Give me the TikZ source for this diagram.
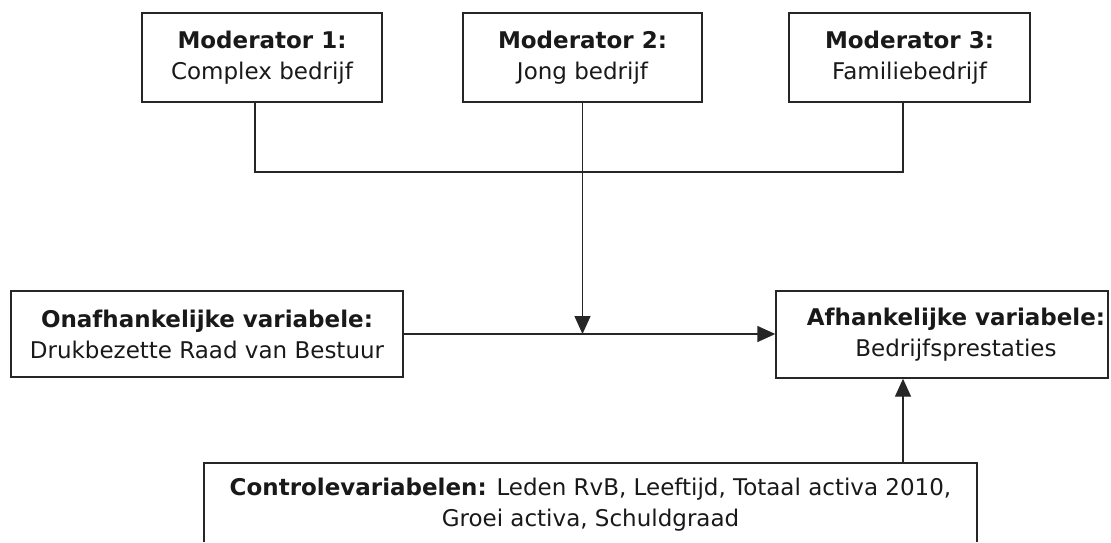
\documentclass[tikz,border=0pt]{standalone}
\usepackage{fontspec}
\setmainfont{DejaVu Sans}
\usetikzlibrary{arrows.meta}
\begin{document}
\begin{tikzpicture}[x=1pt,y=-1pt,
  box/.style={draw=black!85, line width=1.4pt, inner sep=0pt, align=center,
    font=\fontsize{23}{31}\selectfont, text=black!90},
  txt/.style={align=center, inner sep=0pt, font=\fontsize{23}{31}\selectfont, text=black!90},
  conn/.style={draw=black!85, line width=1.4pt},
  arr/.style={conn, -{Triangle[length=18pt,width=16pt]}}]
\useasboundingbox (0,0) rectangle (1111,542);
% moderators
\node[box, minimum width=240pt, minimum height=89pt] (m1) at (262,57.5)
  {\textbf{Moderator 1:}\\Complex bedrijf};
\node[box, minimum width=239pt, minimum height=89pt] (m2) at (582.5,57.5)
  {\textbf{Moderator 2:}\\Jong bedrijf};
\node[box, minimum width=241pt, minimum height=89pt] (m3) at (909.5,57.5)
  {\textbf{Moderator 3:}\\Familiebedrijf};
% independent / dependent
\node[box, minimum width=392pt, minimum height=86pt] (onaf) at (207,334)
  {\textbf{Onafhankelijke variabele:}\\Drukbezette Raad van Bestuur};
\node[box, minimum width=332pt, minimum height=87pt] (aff) at (942,334.5) {};
\node[txt] (afftxt) at (956,334.5)
  {\textbf{Afhankelijke variabele:}\\Bedrijfsprestaties};
% control variables (box cut off at the bottom)
\node[txt] (ctrl) at (590.5,505)
  {\textbf{Controlevariabelen:} Leden RvB, Leeftijd, Totaal activa 2010,\\Groei activa, Schuldgraad};
\coordinate (cbl) at (204,542);
\coordinate (ctl) at (204,463);
\coordinate (ctr) at (977,463);
\coordinate (cbr) at (977,542);
\coordinate (ctop) at (903,463);
\draw[conn] (cbl) -- (ctl) -- (ctr) -- (cbr);
% connectors
\coordinate (j) at (582.5,172);
\draw[conn] ([xshift=-7pt]m1.south) |- (j);
\draw[conn] ([xshift=-6.5pt]m3.south) |- (j);
\draw[arr] (m2.south) -- (m2.south |- onaf.east);
\draw[arr] (onaf.east) -- (onaf.east -| aff.west);
\draw[arr] (ctop) -- (ctop |- aff.south);
\end{tikzpicture}
\end{document}
